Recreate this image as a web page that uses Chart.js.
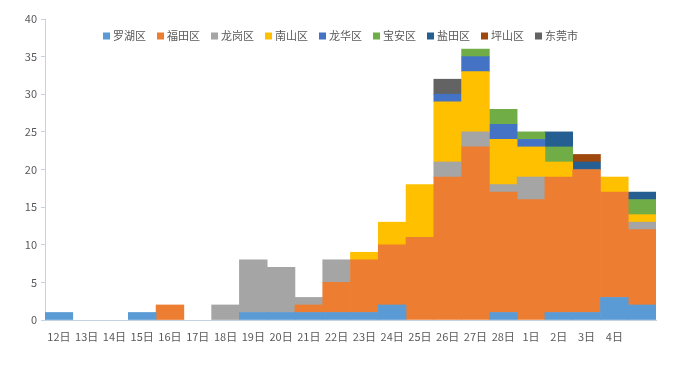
<!DOCTYPE html>
<html>
<head>
<meta charset="utf-8">
<script src="https://cdn.jsdelivr.net/npm/chart.js@4/dist/chart.umd.min.js"></script>
<style>
  html, body { margin: 0; padding: 0; background: #fff; }
</style>
</head>
<body>
<canvas id="chart" width="677" height="373"></canvas>
<script>
const days = ['12日', '13日', '14日', '15日', '16日', '17日', '18日', '19日', '20日', '21日', '22日',
  '23日', '24日', '25日', '26日', '27日', '28日', '1日', '2日', '3日', '4日', ''];

const luohu   = [1, 0, 0, 1, 0, 0, 0, 1, 1, 1, 1, 1, 2, 0, 0, 0, 1, 0, 1, 1, 3, 2];
const futian  = [0, 0, 0, 0, 2, 0, 0, 0, 0, 1, 4, 7, 8, 11, 19, 23, 16, 16, 18, 19, 14, 10];
const longgang= [0, 0, 0, 0, 0, 0, 2, 7, 6, 1, 3, 0, 0, 0, 2, 2, 1, 3, 0, 0, 0, 1];
const nanshan = [0, 0, 0, 0, 0, 0, 0, 0, 0, 0, 0, 1, 3, 7, 8, 8, 6, 4, 2, 0, 2, 1];
const longhua = [0, 0, 0, 0, 0, 0, 0, 0, 0, 0, 0, 0, 0, 0, 1, 2, 2, 1, 0, 0, 0, 0];
const baoan   = [0, 0, 0, 0, 0, 0, 0, 0, 0, 0, 0, 0, 0, 0, 0, 1, 2, 1, 2, 0, 0, 2];
const yantian = [0, 0, 0, 0, 0, 0, 0, 0, 0, 0, 0, 0, 0, 0, 0, 0, 0, 0, 2, 1, 0, 1];
const pingshan= [0, 0, 0, 0, 0, 0, 0, 0, 0, 0, 0, 0, 0, 0, 0, 0, 0, 0, 0, 1, 0, 0];
const dongguan= [0, 0, 0, 0, 0, 0, 0, 0, 0, 0, 0, 0, 0, 0, 2, 0, 0, 0, 0, 0, 0, 0];

const yTicks = [0, 5, 10, 15, 20, 25, 30, 35, 40];

const textColor = '#595959';
const axisColor = '#c3d3e2';
const font = '"Noto Sans CJK SC", "Noto Sans", sans-serif';

// zeros become null so empty segments don't leave hairlines on the stack
function series(label, data, color) {
  return {
    label,
    data: data.map((v) => (v === 0 ? null : v)),
    backgroundColor: color,
    borderWidth: 0
  };
}

// legend sits inside the plot area, so it's drawn by hand
const topLegend = {
  id: 'topLegend',
  afterDraw(chart) {
    const ctx = chart.ctx;
    ctx.save();
    ctx.font = '11px ' + font;
    ctx.textBaseline = 'middle';
    let x = 103;
    const y = 36;
    chart.data.datasets.forEach((ds) => {
      ctx.fillStyle = ds.backgroundColor;
      ctx.fillRect(x, y - 3.5, 7, 7);
      ctx.fillStyle = textColor;
      ctx.fillText(ds.label, x + 10, y);
      x += 10 + ctx.measureText(ds.label).width + 11;
    });
    ctx.restore();
  }
};

new Chart(document.getElementById('chart'), {
  type: 'bar',
  data: {
    labels: days,
    datasets: [
      series('罗湖区', luohu, '#5B9BD5'),
      series('福田区', futian, '#ED7D31'),
      series('龙岗区', longgang, '#A5A5A5'),
      series('南山区', nanshan, '#FFC000'),
      series('龙华区', longhua, '#4472C4'),
      series('宝安区', baoan, '#70AD47'),
      series('盐田区', yantian, '#255E91'),
      series('坪山区', pingshan, '#9E480E'),
      series('东莞市', dongguan, '#636363')
    ]
  },
  options: {
    responsive: false,
    animation: false,
    barPercentage: 1,
    categoryPercentage: 1,
    layout: { padding: { left: 0, right: 21, top: 19, bottom: 0 } },
    plugins: {
      legend: { display: false },
      tooltip: { enabled: false }
    },
    scales: {
      x: {
        stacked: true,
        grid: { display: false, drawTicks: false },
        border: { display: true, color: axisColor, width: 1 },
        ticks: {
          color: textColor,
          font: { family: font, size: 11 },
          padding: 10,
          maxRotation: 0,
          autoSkip: false
        },
        afterFit(scale) { scale.height = 53; }
      },
      y: {
        stacked: true,
        min: 0,
        max: 40,
        afterBuildTicks(scale) { scale.ticks = yTicks.map((v) => ({ value: v })); },
        grid: { drawOnChartArea: false, drawTicks: true, tickLength: 4, color: axisColor },
        border: { display: true, color: axisColor, width: 1 },
        ticks: {
          color: textColor,
          font: { family: font, size: 11 },
          padding: 4
        },
        afterFit(scale) { scale.width = 45; }
      }
    }
  },
  plugins: [topLegend]
});
</script>
</body>
</html>
